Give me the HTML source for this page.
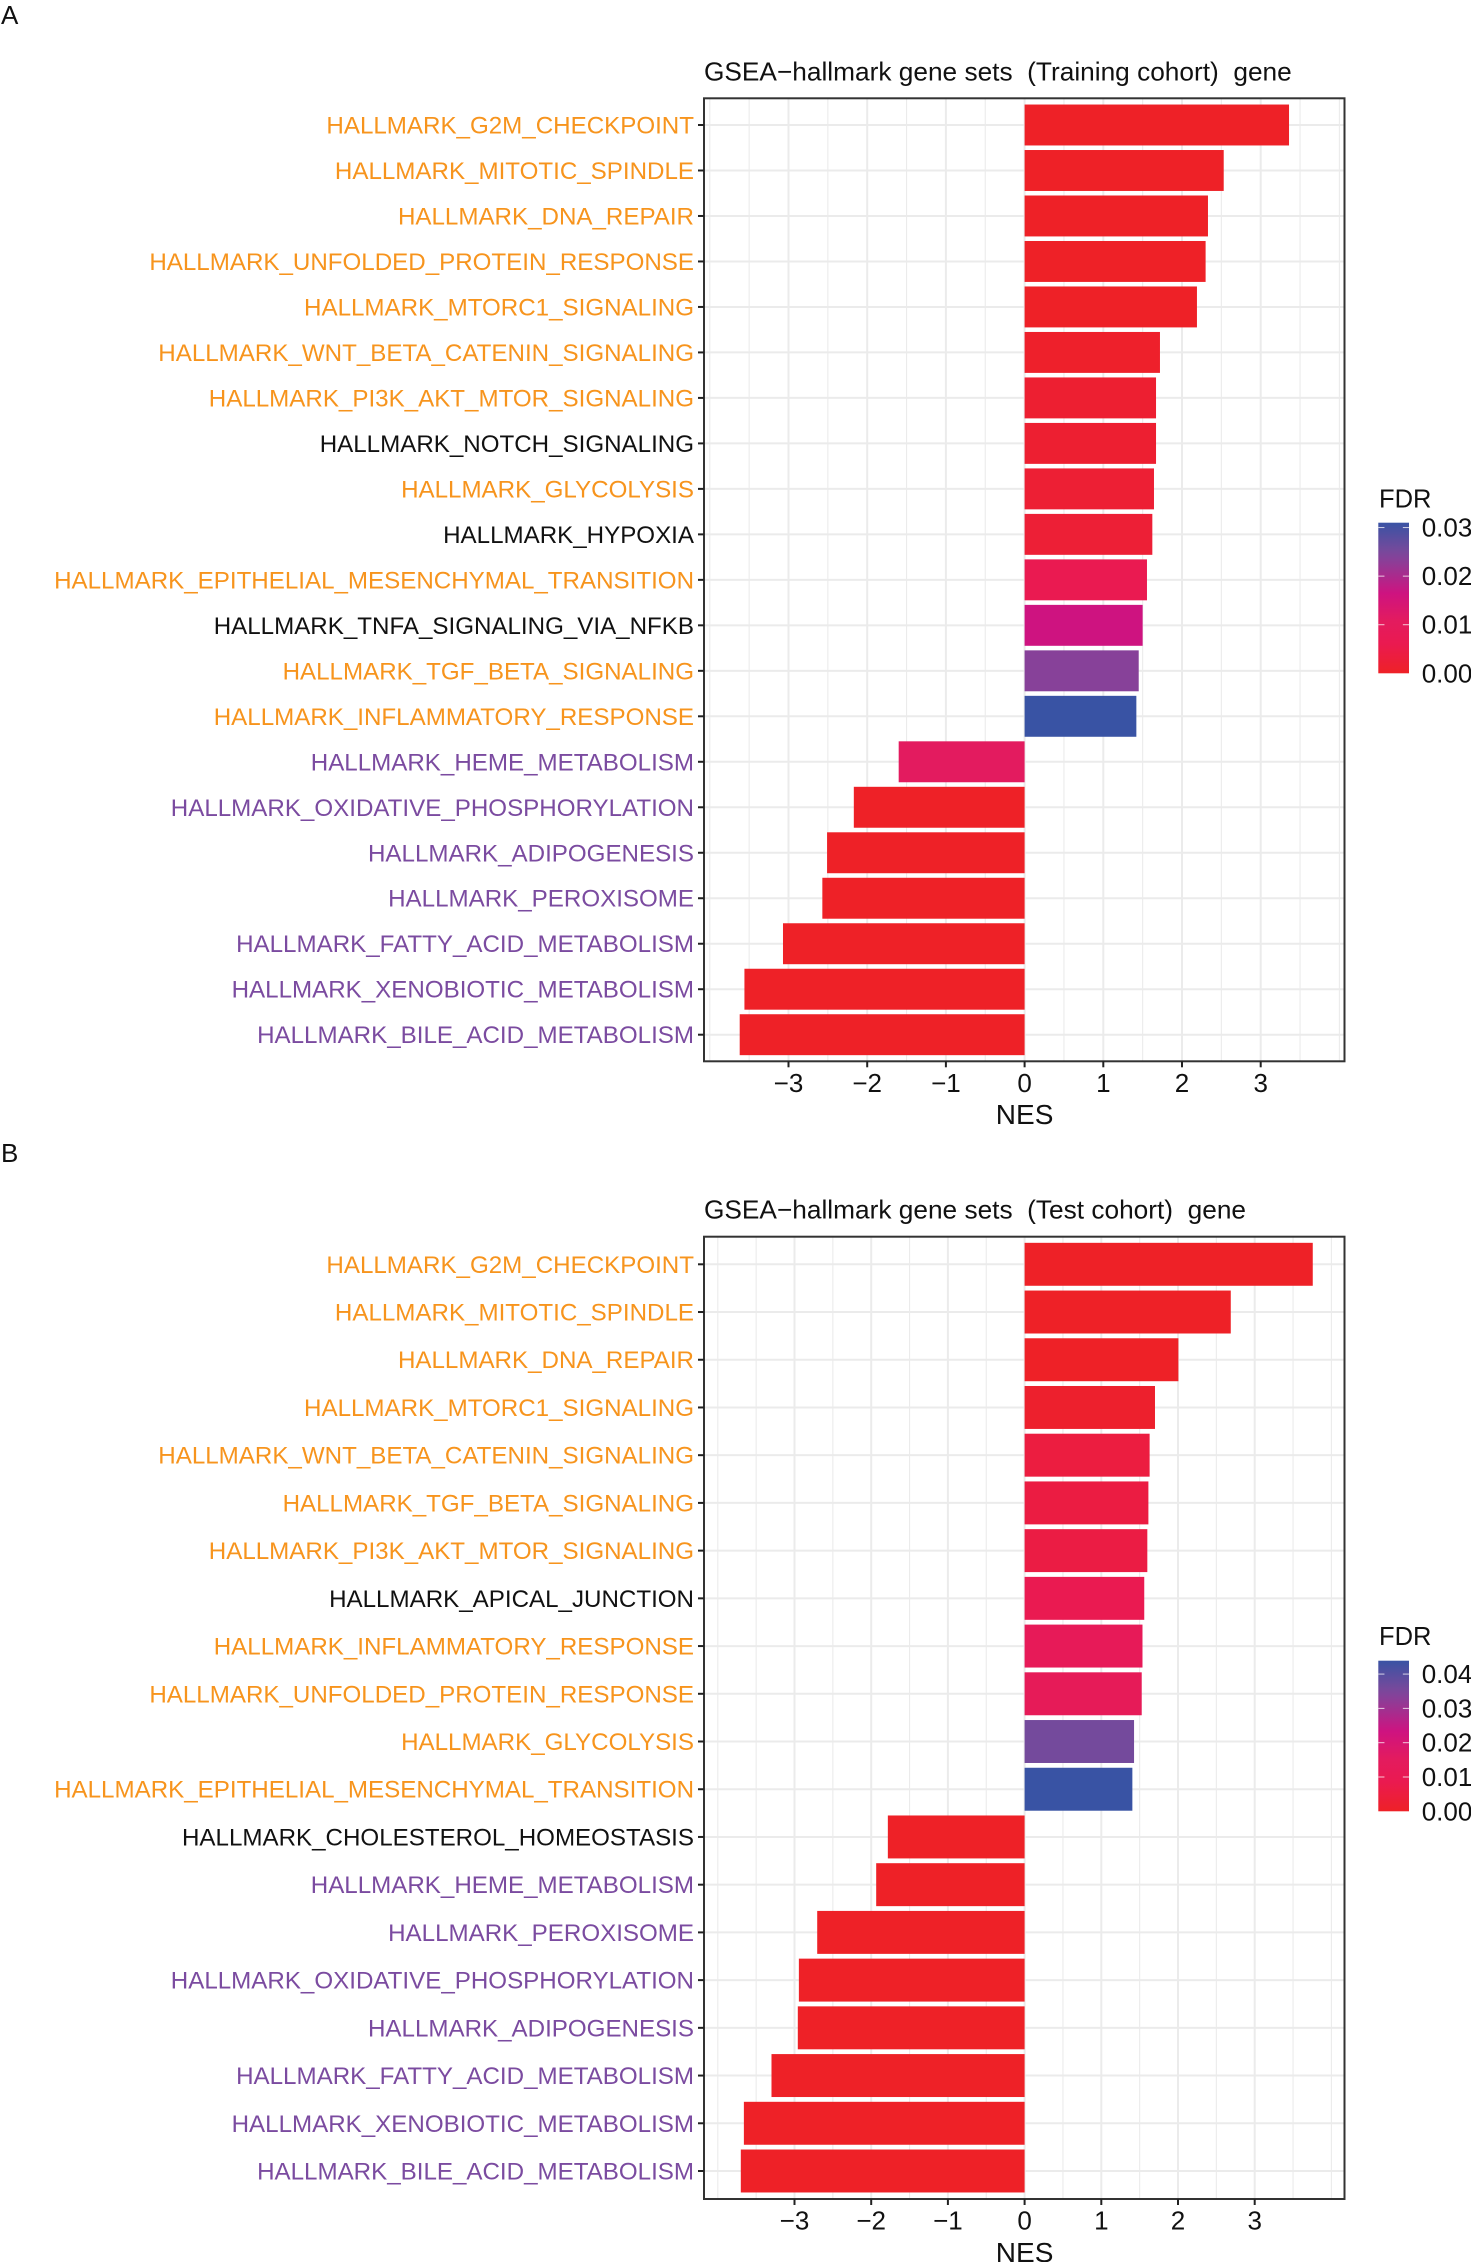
<!DOCTYPE html>
<html lang="en">
<head>
<meta charset="utf-8">
<title>GSEA hallmark gene sets</title>
<style>
html,body{margin:0;padding:0;background:#fff;width:1471px;height:2262px;overflow:hidden}
svg{display:block;font-family:"Liberation Sans",Arial,sans-serif}
text{white-space:pre}
</style>
</head>
<body>
<svg id="figure" xmlns="http://www.w3.org/2000/svg" width="1471" height="2262" viewBox="0 0 1471 2262">
  <rect x="0" y="0" width="1471" height="2262" fill="#ffffff"/>
  <defs>
    <clipPath id="label-clip"><rect x="52" y="0" width="660" height="2262"/></clipPath>
  </defs>
  <text x="1" y="24" font-size="26" fill="#111">A</text>
  <text x="1" y="1162" font-size="26" fill="#111">B</text>
</svg>
<script>
const categoriesA = ["HALLMARK_G2M_CHECKPOINT","HALLMARK_MITOTIC_SPINDLE","HALLMARK_DNA_REPAIR","HALLMARK_UNFOLDED_PROTEIN_RESPONSE","HALLMARK_MTORC1_SIGNALING","HALLMARK_WNT_BETA_CATENIN_SIGNALING","HALLMARK_PI3K_AKT_MTOR_SIGNALING","HALLMARK_NOTCH_SIGNALING","HALLMARK_GLYCOLYSIS","HALLMARK_HYPOXIA","HALLMARK_EPITHELIAL_MESENCHYMAL_TRANSITION","HALLMARK_TNFA_SIGNALING_VIA_NFKB","HALLMARK_TGF_BETA_SIGNALING","HALLMARK_INFLAMMATORY_RESPONSE","HALLMARK_HEME_METABOLISM","HALLMARK_OXIDATIVE_PHOSPHORYLATION","HALLMARK_ADIPOGENESIS","HALLMARK_PEROXISOME","HALLMARK_FATTY_ACID_METABOLISM","HALLMARK_XENOBIOTIC_METABOLISM","HALLMARK_BILE_ACID_METABOLISM"];
const groupsA = ["up","up","up","up","up","up","up","other","up","other","up","other","up","up","down","down","down","down","down","down","down"];
const nesA = [3.36,2.53,2.33,2.30,2.19,1.72,1.67,1.67,1.644,1.623,1.555,1.50,1.45,1.42,-1.60,-2.17,-2.51,-2.57,-3.07,-3.56,-3.62];
const fdrA = [0,0,0,0,0,0.0006,0.0015,0.0015,0.0019,0.0022,0.0062,0.0164,0.0236,0.031,0.0108,0,0,0,0,0,0];

const categoriesB = ["HALLMARK_G2M_CHECKPOINT","HALLMARK_MITOTIC_SPINDLE","HALLMARK_DNA_REPAIR","HALLMARK_MTORC1_SIGNALING","HALLMARK_WNT_BETA_CATENIN_SIGNALING","HALLMARK_TGF_BETA_SIGNALING","HALLMARK_PI3K_AKT_MTOR_SIGNALING","HALLMARK_APICAL_JUNCTION","HALLMARK_INFLAMMATORY_RESPONSE","HALLMARK_UNFOLDED_PROTEIN_RESPONSE","HALLMARK_GLYCOLYSIS","HALLMARK_EPITHELIAL_MESENCHYMAL_TRANSITION","HALLMARK_CHOLESTEROL_HOMEOSTASIS","HALLMARK_HEME_METABOLISM","HALLMARK_PEROXISOME","HALLMARK_OXIDATIVE_PHOSPHORYLATION","HALLMARK_ADIPOGENESIS","HALLMARK_FATTY_ACID_METABOLISM","HALLMARK_XENOBIOTIC_METABOLISM","HALLMARK_BILE_ACID_METABOLISM"];
const groupsB = ["up","up","up","up","up","up","up","other","up","up","up","up","other","down","down","down","down","down","down","down"];
const nesB = [3.757,2.688,2.005,1.70,1.63,1.614,1.60,1.56,1.537,1.527,1.427,1.405,-1.783,-1.935,-2.704,-2.943,-2.957,-3.30,-3.66,-3.70];
const fdrB = [0,0,0,0.0013,0.0053,0.0057,0.006,0.0088,0.0119,0.0123,0.036,0.0439,0,0,0,0,0,0,0,0];

const xTickValues = [-3,-2,-1,0,1,2,3];
const xGridValues = [-4,-3.5,-3,-2.5,-2,-1.5,-1,-0.5,0,0.5,1,1.5,2,2.5,3,3.5,4];
const legendTicksA = [0,0.01,0.02,0.03];
const legendTicksB = [0,0.01,0.02,0.03,0.04];

const svg = document.getElementById('figure');
const NS = 'http://www.w3.org/2000/svg';
const groupColor = {up:'#F7941D', down:'#7B4BA0', other:'#111111'};
const rampT = [0,0.2,0.35,0.53,0.76,0.82,1];
const rampRGB = [[238,33,39],[234,26,81],[227,27,95],[206,19,128],[135,65,153],[116,74,156],[57,83,164]];

function rampColor(t){
  t = Math.max(0, Math.min(1, t));
  let i = 0;
  while (i < rampT.length - 2 && t > rampT[i + 1]) i++;
  const f = (t - rampT[i]) / (rampT[i + 1] - rampT[i]);
  const c = rampRGB[i].map((v, k) => Math.round(v + (rampRGB[i + 1][k] - v) * f));
  return 'rgb(' + c.join(',') + ')';
}
function make(tag, attrs, parent){
  const node = document.createElementNS(NS, tag);
  for (const key in attrs) node.setAttribute(key, attrs[key]);
  (parent || svg).appendChild(node);
  return node;
}
function fmtTick(v){ return String(v).replace('-', '\u2212'); }

function drawChart(cfg){
  const x = v => cfg.x0 + v * cfg.unit;
  const band = (cfg.lastRow - cfg.firstRow) / (cfg.categories.length - 1);
  const y = i => cfg.firstRow + i * band;
  const barH = band * 0.9;
  let el;

  el = make('text', {x: cfg.left, y: cfg.titleY, 'font-size': 26.25, fill: '#111'});
  
  
  el.textContent = cfg.title;

  el = make('rect', {x: cfg.left, y: cfg.top, width: cfg.right - cfg.left, height: cfg.bottom - cfg.top, fill: '#fff'});
  
  

  xGridValues.forEach(v => {
    const major = xTickValues.indexOf(v) >= 0;
    const line = make('line', {x1: x(v), x2: x(v), y1: cfg.top, y2: cfg.bottom, stroke: '#EBEBEB', 'stroke-width': major ? 2 : 1.1});
    
    
  });
  cfg.categories.forEach((c, i) => {
    const line = make('line', {x1: cfg.left, x2: cfg.right, y1: y(i), y2: y(i), stroke: '#EBEBEB', 'stroke-width': 2});
    
    
  });

  cfg.values.forEach((v, i) => {
    const bar = make('rect', {
      x: Math.min(x(0), x(v)), y: y(i) - barH / 2,
      width: Math.abs(x(v) - x(0)), height: barH,
      fill: rampColor(cfg.fdr[i] / cfg.fdrMax)
    });
    
    
  });

  el = make('rect', {x: cfg.left, y: cfg.top, width: cfg.right - cfg.left, height: cfg.bottom - cfg.top, fill: 'none', stroke: '#333', 'stroke-width': 2});
  
  

  cfg.categories.forEach((c, i) => {
    const tick = make('line', {x1: cfg.left - 6, x2: cfg.left, y1: y(i), y2: y(i), stroke: '#222', 'stroke-width': 2});
    
    
    const label = make('text', {x: 694, y: y(i) + 8.5, 'text-anchor': 'end', 'font-size': 24.15, fill: groupColor[cfg.groups[i]], 'clip-path': 'url(#label-clip)'});
    
    
    label.textContent = c;
  });

  xTickValues.forEach(v => {
    const tick = make('line', {x1: x(v), x2: x(v), y1: cfg.bottom, y2: cfg.bottom + 6, stroke: '#222', 'stroke-width': 2});
    
    
    const label = make('text', {x: x(v), y: cfg.tickLabelY, 'text-anchor': 'middle', 'font-size': 26, fill: '#111'});
    
    
    label.textContent = fmtTick(v);
  });

  el = make('text', {x: x(0), y: cfg.axisTitleY, 'text-anchor': 'middle', 'font-size': 28, fill: '#111'});
  
  
  el.textContent = 'NES';

  /* legend */
  const lg = {left: 1378.3, right: 1409};
  const ly = f => cfg.legBottom - (cfg.legBottom - cfg.legTop) * f / cfg.fdrMax;

  el = make('text', {x: 1379, y: cfg.legTitleY, 'font-size': 25.5, fill: '#111'});
  
  
  el.textContent = 'FDR';

  const gradId = cfg.id + '-ramp';
  const grad = make('linearGradient', {id: gradId, x1: 0, y1: 1, x2: 0, y2: 0});
  rampT.forEach((t, i) => {
    make('stop', {offset: t, 'stop-color': rampColor(t)}, grad);
  });
  el = make('rect', {x: lg.left, y: cfg.legTop, width: lg.right - lg.left, height: cfg.legBottom - cfg.legTop, fill: 'url(#' + gradId + ')'});
  
  

  cfg.legendTicks.forEach(f => {
    const w = (lg.right - lg.left) / 5;
    if (f > 0) {
      const t1 = make('line', {x1: lg.left, x2: lg.left + w, y1: ly(f), y2: ly(f), stroke: '#fff', 'stroke-opacity': 0.75, 'stroke-width': 1});
      
      
      const t2 = make('line', {x1: lg.right - w, x2: lg.right, y1: ly(f), y2: ly(f), stroke: '#fff', 'stroke-opacity': 0.75, 'stroke-width': 1});
      
      
    }
    const label = make('text', {x: 1421.7, y: ly(f) + 9, 'font-size': 26, fill: '#111'});
    
    
    label.textContent = f.toFixed(2);
  });
}

drawChart({
  id: 'chart-a', title: 'GSEA\u2212hallmark gene sets  (Training cohort)  gene',
  categories: categoriesA, groups: groupsA, values: nesA, fdr: fdrA, fdrMax: 0.031, legendTicks: legendTicksA,
  left: 704, right: 1344.5, top: 98.3, bottom: 1061.3, x0: 1024.6, unit: 78.7,
  firstRow: 125, lastRow: 1034.7, titleY: 80.7, tickLabelY: 1092, axisTitleY: 1124,
  legTop: 522.7, legBottom: 673.3, legTitleY: 507.3
});
drawChart({
  id: 'chart-b', title: 'GSEA\u2212hallmark gene sets  (Test cohort)  gene',
  categories: categoriesB, groups: groupsB, values: nesB, fdr: fdrB, fdrMax: 0.0439, legendTicks: legendTicksB,
  left: 704, right: 1344.5, top: 1236.7, bottom: 2199, x0: 1024.6, unit: 76.7,
  firstRow: 1264.3, lastRow: 2171, titleY: 1218.3, tickLabelY: 2229.5, axisTitleY: 2262,
  legTop: 1660.7, legBottom: 1811.3, legTitleY: 1645
});
</script>
</body>
</html>
